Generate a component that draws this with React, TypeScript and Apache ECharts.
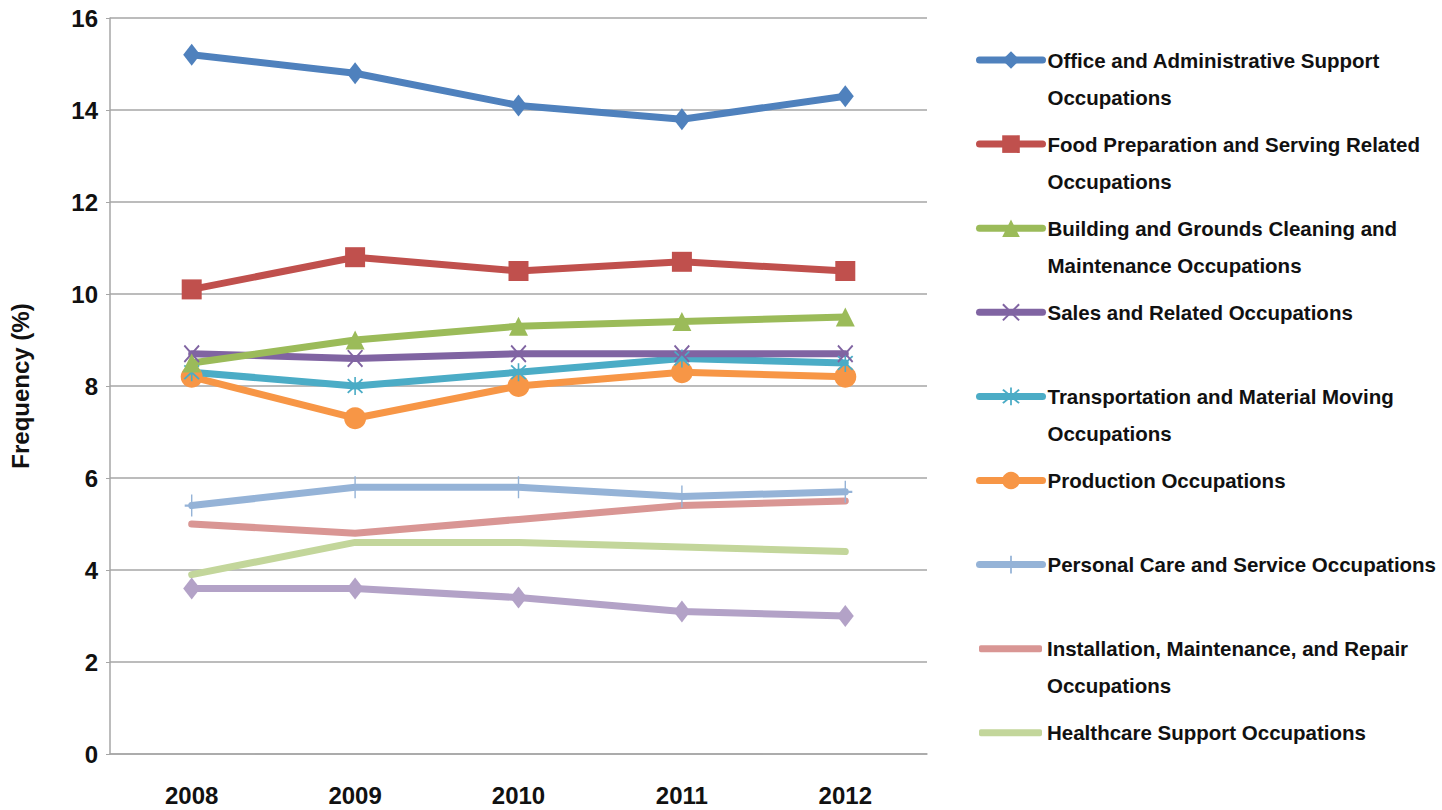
import React, { useEffect, useRef } from "react";
import * as echarts from "echarts";

const years = ["2008", "2009", "2010", "2011", "2012"];

const officeAdmin = [15.2, 14.8, 14.1, 13.8, 14.3];
const foodPrep = [10.1, 10.8, 10.5, 10.7, 10.5];
const buildingGrounds = [8.5, 9.0, 9.3, 9.4, 9.5];
const salesRelated = [8.7, 8.6, 8.7, 8.7, 8.7];
const transportation = [8.3, 8.0, 8.3, 8.6, 8.5];
const production = [8.2, 7.3, 8.0, 8.3, 8.2];
const personalCare = [5.4, 5.8, 5.8, 5.6, 5.7];
const installation = [5.0, 4.8, 5.1, 5.4, 5.5];
const healthcare = [3.9, 4.6, 4.6, 4.5, 4.4];
const otherSeries = [3.6, 3.6, 3.4, 3.1, 3.0];

const seriesNames = [
  "Office and Administrative Support Occupations",
  "Food Preparation and Serving Related Occupations",
  "Building and Grounds Cleaning and Maintenance Occupations",
  "Sales and Related Occupations",
  "Transportation and Material Moving Occupations",
  "Production Occupations",
  "Personal Care and Service Occupations",
  "Installation, Maintenance, and Repair Occupations",
  "Healthcare Support Occupations",
];

const legendLabels = [
  "Office and Administrative Support\nOccupations",
  "Food Preparation and Serving Related\nOccupations",
  "Building and Grounds Cleaning and\nMaintenance Occupations",
  "Sales and Related Occupations",
  "Transportation and Material Moving\nOccupations",
  "Production Occupations",
  "Personal Care and Service Occupations",
  "Installation, Maintenance, and Repair\nOccupations",
  "Healthcare Support Occupations",
];

const yTicks = [0, 2, 4, 6, 8, 10, 12, 14, 16];

const SANS = "'Liberation Sans', Arial, sans-serif";

const X_SYM = "path://M0,0.8L0.8,0L10,9.2L9.2,10Z M9.2,0L10,0.8L0.8,10L0,9.2Z";
const STAR_SYM =
  "path://M0,0.8L0.8,0L10,9.2L9.2,10Z M9.2,0L10,0.8L0.8,10L0,9.2Z M4.5,-1L5.5,-1L5.5,11L4.5,11Z";
const PLUS_SYM = "path://M4.5,0L5.5,0L5.5,10L4.5,10Z M0,4.5L10,4.5L10,5.5L0,5.5Z";

export default function App() {
  const ref = useRef<HTMLDivElement>(null);

  useEffect(() => {
    if (!ref.current) return;
    document.body.style.margin = "0";
    document.body.style.overflow = "hidden";
    const chart = echarts.init(ref.current, undefined, { renderer: "svg" });

    const symbols: Record<string, string> = {};

    const mk = (
      name: string,
      data: number[],
      color: string,
      symbol: string,
      symbolSize: number | number[],
      z: number
    ) => {
      symbols[name] = symbol;
      return {
        name,
        type: "line",
        data,
        symbol,
        symbolSize,
        showSymbol: symbol !== "none",
        z,
        itemStyle: { color },
        lineStyle: { color, width: 7, cap: "round", join: "round" },
        emphasis: { disabled: true },
      };
    };

    const series = [
      mk("Other", otherSeries, "#B3A2C7", "diamond", [17, 22], 2),
      mk(seriesNames[8], healthcare, "#C3D69B", "none", 0, 2),
      mk(seriesNames[7], installation, "#D99694", "none", 0, 2),
      mk(seriesNames[6], personalCare, "#95B3D7", PLUS_SYM, [14, 22], 2),
      mk(seriesNames[5], production, "#F79646", "circle", 22, 3),
      mk(seriesNames[4], transportation, "#4BACC6", STAR_SYM, [16, 18], 3),
      mk(seriesNames[3], salesRelated, "#8064A2", X_SYM, [16, 18], 3),
      mk(seriesNames[2], buildingGrounds, "#9BBB59", "triangle", 19, 3),
      mk(seriesNames[1], foodPrep, "#C0504D", "rect", 20, 3),
      mk(seriesNames[0], officeAdmin, "#4F81BD", "diamond", [17, 22], 3),
    ];

    const legends = seriesNames.map((name, i) => {
      const label = legendLabels[i];
      const twoLine = label.indexOf("\n") >= 0;
      const plain = symbols[name] === "none";
      const iconY = 60 + i * 84.1;
      return {
        data: plain ? [{ name, icon: "roundRect" }] : [name],
        orient: "vertical",
        left: plain ? 979 : 976,
        top: twoLine ? iconY - 55.5 : iconY - 18.5,
        padding: 0,
        itemWidth: 63,
        itemHeight: plain ? 7 : 22,
        itemGap: 0,
        selectedMode: false,
        // a leading blank line keeps the icon level with the first text line
        formatter: () => (twoLine ? "\n" + label : label),
        lineStyle: { width: 7, cap: "round" },
        itemStyle: plain ? { borderRadius: 3.5 } : {},
        textStyle: {
          fontFamily: SANS,
          fontWeight: "bold",
          fontSize: 20.5,
          lineHeight: 37,
          color: "#111111",
        },
      };
    });

    chart.setOption({
      animation: false,
      backgroundColor: "#ffffff",
      grid: { left: 107, top: 18, width: 820, height: 736, containLabel: false },
      legend: legends,
      xAxis: {
        type: "category",
        data: years,
        boundaryGap: true,
        axisLine: { show: true, lineStyle: { color: "#A6A6A6", width: 1.5 } },
        axisTick: { show: false },
        axisLabel: {
          margin: 29,
          fontFamily: SANS,
          fontWeight: "bold",
          fontSize: 24,
          color: "#111111",
        },
      },
      yAxis: {
        type: "value",
        min: yTicks[0],
        max: yTicks[yTicks.length - 1],
        interval: 2,
        name: "Frequency (%)",
        nameLocation: "middle",
        nameGap: 78,
        nameRotate: 90,
        nameTextStyle: {
          fontFamily: SANS,
          fontWeight: "bold",
          fontSize: 24,
          color: "#111111",
        },
        axisLine: { show: true, lineStyle: { color: "#A6A6A6", width: 1.5 } },
        axisTick: { show: true, length: 4, lineStyle: { color: "#A6A6A6" } },
        splitLine: { show: true, lineStyle: { color: "#A6A6A6", width: 1.5 } },
        axisLabel: {
          margin: 12,
          fontFamily: SANS,
          fontWeight: "bold",
          fontSize: 24,
          color: "#111111",
        },
      },
      series,
    });

    return () => chart.dispose();
  }, []);

  return (
    <div
      ref={ref}
      style={{ position: "absolute", left: 0, top: 0, width: 1442, height: 810 }}
    />
  );
}
